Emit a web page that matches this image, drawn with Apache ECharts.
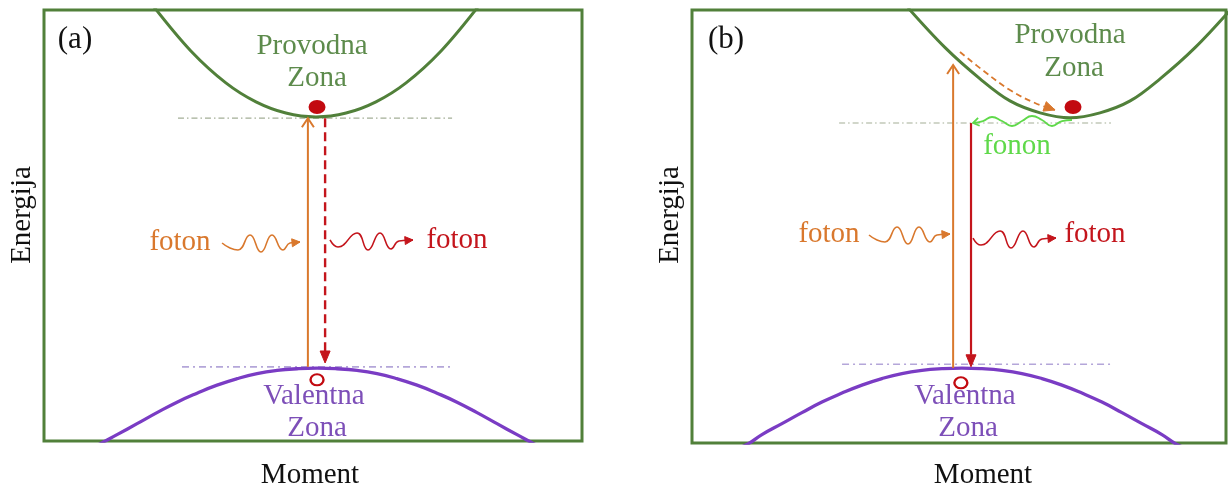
<!DOCTYPE html>
<html>
<head>
<meta charset="utf-8">
<script src="https://cdn.jsdelivr.net/npm/echarts@6/dist/echarts.min.js"></script>
<style>
html,body{margin:0;padding:0;background:#fff;}
#chart{width:1230px;height:486px;}
</style>
</head>
<body>
<div id="chart"></div>
<script>
// ---------- DATA (momentum k: -100..100, energy E: 0..100, arbitrary units) ----------
// Panel (a): direct band gap
const aConductionK = [-59.1,-45.4,-32.4,-21.2,-10.1,1.1,12.3,23.4,34.6,47.6,61.3];
const aConductionE = [100.7,90.5,83.1,78.7,76.1,75.2,76.1,78.7,83.1,90.5,100.7];
const aValenceK = [-98.9,-91.4,-84.0,-78.05,-72.85,-65.4,-58.0,-50.54,-43.1,-35.67,-28.24,-20.8,-13.37,-5.93,1.5,8.93,16.37,23.8,31.24,38.67,46.1,53.54,60.98,68.4,75.85,81.05,87.0,94.4,101.9];
const aValenceE = [-7.46,-4.9,-2.36,-0.27,1.47,4.02,6.58,9.01,11.1,12.96,14.46,15.62,16.37,16.76,16.9,16.76,16.37,15.62,14.46,12.96,11.1,9.01,6.58,4.02,1.47,-0.27,-2.36,-4.9,-7.46];
const aLevelTop = [[-50.2,74.9],[51.7,74.9]];
const aLevelBottom = [[-48.7,17.2],[52.0,17.2]];
const aElectron = [[1.5,77.5]];
const aHole = [[1.5,14.2]];
const aAbsorb = [[-1.9,17.2,-1.9,74.9]];
const aEmit = [[4.5,74.9,4.5,18.1]];
const aPhotonIn = [[-33.8,45.94],[-30.86,44.78],[-27.88,44.32],[-23.42,47.8],[-19.33,43.85],[-15.24,47.8],[-11.15,44.32],[-8.55,45.94],[-4.83,46.17]];
const aPhotonOut = [[6.32,46.64],[9.29,45.01],[16.36,48.26],[20.45,44.32],[24.91,48.26],[29.0,44.55],[31.97,46.4],[37.17,46.64]];

// Panel (b): indirect band gap
const bConductionK = [-19.1,-5.2,7.9,19.1,30.4,41.6,52.8,64.1,75.3,88.4,102.3];
const bConductionE = [100.5,91.3,84.1,79.0,76.25,75.1,76.25,79.0,84.1,91.3,100.5];
const bValenceK = [-100.0,-92.5,-85.0,-79.05,-73.81,-66.32,-58.83,-51.33,-43.84,-36.35,-28.86,-21.37,-13.88,-6.39,1.1,8.59,16.08,23.57,31.06,38.55,46.04,53.53,61.03,68.52,76.01,81.25,87.2,94.7,102.2];
const bValenceE = [-6.95,-4.4,-1.87,-0.2,1.94,4.48,7.02,9.45,11.53,13.37,14.88,16.03,16.77,17.16,17.3,17.16,16.77,16.03,14.88,13.37,11.53,9.45,7.02,4.48,1.94,-0.2,-1.87,-4.4,-6.95];
const bLevelTop = [[-44.9,73.9],[56.9,73.9]];
const bLevelBottom = [[-43.8,18.2],[57.3,18.2]];
const bElectron = [[42.7,77.6]];
const bHole = [[0.7,13.9]];
const bAbsorb = [[-2.2,17.3,-2.2,87.3]];
const bEmit = [[4.5,73.9,4.5,17.6]];
const bRelax = [[0.37,90.3],[9.74,85.68],[19.1,81.52],[28.46,78.52],[35.96,76.91]];
const bPhonon = [[42.32,74.6],[38.58,74.36],[34.83,73.21],[31.09,74.6],[27.34,75.52],[23.6,74.36],[19.85,73.21],[16.1,74.36],[12.36,75.29],[8.99,74.36],[5.24,73.9]];
const bPhotonIn = [[-33.71,48.04],[-30.71,46.88],[-27.72,46.42],[-23.22,49.88],[-19.1,45.96],[-14.98,49.88],[-10.86,46.42],[-8.24,48.04],[-3.37,48.27]];
const bPhotonOut = [[5.24,47.34],[8.24,45.73],[15.36,48.96],[19.48,45.03],[23.97,48.96],[28.09,45.27],[31.09,47.11],[36.33,47.34]];

// Labels
const panelLabels = ['(a)','(b)'];
const conductionLabel = ['Provodna','Zona'];
const valenceLabel = ['Valentna','Zona'];
const photonLabel = 'foton';
const phononLabel = 'fonon';
const yName = 'Energija';
const xName = 'Moment';

// ---------- STYLE ----------
const FONT = "'Liberation Serif','Times New Roman',serif";
const GREEN_BOX = '#51803a';
const GREEN_TXT = '#5d8b4c';
const PURPLE = '#7a3cc4';
const PURPLE_TXT = '#7d4fb8';
const ORANGE = '#d9782d';
const RED = '#c4151c';
const DOT = '#c20a10';
const FONON = '#5fd94a';
const LEVEL_TOP = '#a3ae96';
const LEVEL_BOT = '#b4a6d9';

const zip = (k, e) => k.map((v, i) => [v, e[i]]);

function lineSeries(g, data, color, width, extra) {
  return Object.assign({
    type: 'line', xAxisIndex: g, yAxisIndex: g, data: data,
    showSymbol: false, symbol: 'none', silent: true, clip: true,
    lineStyle: { color: color, width: width }, z: 3
  }, extra || {});
}

function arrowSeries(g, data, color, opt) {
  return {
    type: 'custom', xAxisIndex: g, yAxisIndex: g, data: data, silent: true, z: 6,
    renderItem: function (params, api) {
      const p1 = api.coord([api.value(0), api.value(1)]);
      const p2 = api.coord([api.value(2), api.value(3)]);
      const dx = p2[0] - p1[0], dy = p2[1] - p1[1];
      const len = Math.hypot(dx, dy) || 1;
      const ux = dx / len, uy = dy / len, nx = -uy, ny = ux;
      const bx = p2[0] - ux * opt.headLen, by = p2[1] - uy * opt.headLen;
      const L = [bx + nx * opt.headHalf, by + ny * opt.headHalf];
      const R = [bx - nx * opt.headHalf, by - ny * opt.headHalf];
      const children = [];
      if (opt.shaft) {
        const end = opt.filled ? [bx, by] : p2;
        children.push({ type: 'line', shape: { x1: p1[0], y1: p1[1], x2: end[0], y2: end[1] },
          style: { stroke: color, lineWidth: opt.width, lineDash: opt.dash || null } });
      }
      if (opt.filled) {
        children.push({ type: 'polygon', shape: { points: [p2, L, R] }, style: { fill: color, stroke: color, lineWidth: 1 } });
      } else {
        children.push({ type: 'polyline', shape: { points: [L, p2, R] }, style: { stroke: color, fill: null, lineWidth: opt.width } });
      }
      return { type: 'group', children: children };
    }
  };
}

// last segment of a wave / curve, used for its arrowhead
const tail = arr => [[arr[arr.length - 2][0], arr[arr.length - 2][1], arr[arr.length - 1][0], arr[arr.length - 1][1]]];

function dots(g, data, filled, size) {
  return {
    type: 'scatter', xAxisIndex: g, yAxisIndex: g, data: data, silent: true, z: 7,
    symbol: 'circle', symbolSize: size,
    itemStyle: filled ? { color: DOT, opacity: 1 } : { color: '#ffffff', borderColor: DOT, borderWidth: 2.2, opacity: 1 }
  };
}

function txt(x, y, text, color, size, rot) {
  return {
    type: 'text', x: x, y: y, rotation: rot || 0, z: 20, silent: true,
    style: { text: text, fill: color, font: size + 'px ' + FONT,
      textAlign: 'center', textVerticalAlign: 'middle', align: 'center', verticalAlign: 'middle' }
  };
}

const levelTopStyle = { lineStyle: { color: LEVEL_TOP, width: 1.2, type: [6, 3, 1.5, 3] }, z: 2 };
const levelBotStyle = { lineStyle: { color: LEVEL_BOT, width: 1.6, type: [7, 4, 2, 4] }, z: 2 };

const series = [];
// ---- panel (a)
series.push(lineSeries(0, aLevelTop, LEVEL_TOP, 1.2, levelTopStyle));
series.push(lineSeries(0, aLevelBottom, LEVEL_BOT, 1.6, levelBotStyle));
series.push(lineSeries(0, zip(aConductionK, aConductionE), GREEN_BOX, 3, { smooth: 0.35 }));
series.push(lineSeries(0, zip(aValenceK, aValenceE), PURPLE, 3.3, { smooth: 0.5 }));
series.push(arrowSeries(0, aAbsorb, ORANGE, { shaft: true, filled: false, width: 2, headLen: 9, headHalf: 6 }));
series.push(arrowSeries(0, aEmit, RED, { shaft: true, filled: true, width: 2.4, dash: [9, 5], headLen: 12, headHalf: 5 }));
series.push(lineSeries(0, aPhotonIn, ORANGE, 1.6, { smooth: 0.5, z: 5 }));
series.push(arrowSeries(0, tail(aPhotonIn), ORANGE, { shaft: false, filled: true, width: 1.6, headLen: 8, headHalf: 4 }));
series.push(lineSeries(0, aPhotonOut, RED, 1.6, { smooth: 0.5, z: 5 }));
series.push(arrowSeries(0, tail(aPhotonOut), RED, { shaft: false, filled: true, width: 1.6, headLen: 8, headHalf: 4 }));
series.push(dots(0, aElectron, true, [17, 14]));
series.push(dots(0, aHole, false, [13, 11]));
// ---- panel (b)
series.push(lineSeries(1, bLevelTop, LEVEL_TOP, 1.2, levelTopStyle));
series.push(lineSeries(1, bLevelBottom, LEVEL_BOT, 1.6, levelBotStyle));
series.push(lineSeries(1, zip(bConductionK, bConductionE), GREEN_BOX, 3, { smooth: 0.35 }));
series.push(lineSeries(1, zip(bValenceK, bValenceE), PURPLE, 3.3, { smooth: 0.5 }));
series.push(arrowSeries(1, bAbsorb, ORANGE, { shaft: true, filled: false, width: 2, headLen: 9, headHalf: 6 }));
series.push(arrowSeries(1, bEmit, RED, { shaft: true, filled: true, width: 2.2, headLen: 12, headHalf: 5 }));
series.push(lineSeries(1, bRelax, ORANGE, 1.8, { smooth: 0.4, z: 5, lineStyle: { color: ORANGE, width: 1.8, type: [6, 4] } }));
series.push(arrowSeries(1, tail(bRelax), ORANGE, { shaft: false, filled: true, width: 1.6, headLen: 11, headHalf: 5 }));
series.push(lineSeries(1, bPhonon, FONON, 1.8, { smooth: 0.5, z: 5 }));
series.push(arrowSeries(1, tail(bPhonon), FONON, { shaft: false, filled: false, width: 1.8, headLen: 6, headHalf: 4 }));
series.push(lineSeries(1, bPhotonIn, ORANGE, 1.6, { smooth: 0.5, z: 5 }));
series.push(arrowSeries(1, tail(bPhotonIn), ORANGE, { shaft: false, filled: true, width: 1.6, headLen: 8, headHalf: 4 }));
series.push(lineSeries(1, bPhotonOut, RED, 1.6, { smooth: 0.5, z: 5 }));
series.push(arrowSeries(1, tail(bPhotonOut), RED, { shaft: false, filled: true, width: 1.6, headLen: 8, headHalf: 4 }));
series.push(dots(1, bElectron, true, [17, 14]));
series.push(dots(1, bHole, false, [13, 11]));

const gridStyle = { show: true, borderColor: GREEN_BOX, borderWidth: 3, backgroundColor: 'transparent', containLabel: false };
const axisX = g => ({ type: 'value', gridIndex: g, min: -100, max: 100, show: false });
const axisY = g => ({ type: 'value', gridIndex: g, min: 0, max: 100, show: false });

const option = {
  animation: false,
  backgroundColor: '#ffffff',
  grid: [
    Object.assign({ left: 44, top: 10, width: 538, height: 431 }, gridStyle),
    Object.assign({ left: 692, top: 10, width: 534, height: 433 }, gridStyle)
  ],
  xAxis: [axisX(0), axisX(1)],
  yAxis: [axisY(0), axisY(1)],
  series: series,
  graphic: [
    txt(75, 40, panelLabels[0], '#111', 31),
    txt(726, 40, panelLabels[1], '#111', 31),
    txt(312, 46, conductionLabel[0], GREEN_TXT, 29),
    txt(317, 78, conductionLabel[1], GREEN_TXT, 29),
    txt(314, 396, valenceLabel[0], PURPLE_TXT, 29),
    txt(317, 428, valenceLabel[1], PURPLE_TXT, 29),
    txt(1070, 35, conductionLabel[0], GREEN_TXT, 29),
    txt(1074, 68, conductionLabel[1], GREEN_TXT, 29),
    txt(965, 396, valenceLabel[0], PURPLE_TXT, 29),
    txt(968, 428, valenceLabel[1], PURPLE_TXT, 29),
    txt(180, 242, photonLabel, ORANGE, 29),
    txt(457, 240, photonLabel, RED, 29),
    txt(829, 234, photonLabel, ORANGE, 29),
    txt(1095, 234, photonLabel, RED, 29),
    txt(1017, 146, phononLabel, FONON, 29),
    txt(22, 215, yName, '#111', 29, Math.PI / 2),
    txt(670, 215, yName, '#111', 29, Math.PI / 2),
    txt(310, 475, xName, '#111', 29),
    txt(983, 475, xName, '#111', 29)
  ]
};

const chart = echarts.init(document.getElementById('chart'), null, { renderer: 'canvas' });
chart.setOption(option);
</script>
</body>
</html>
